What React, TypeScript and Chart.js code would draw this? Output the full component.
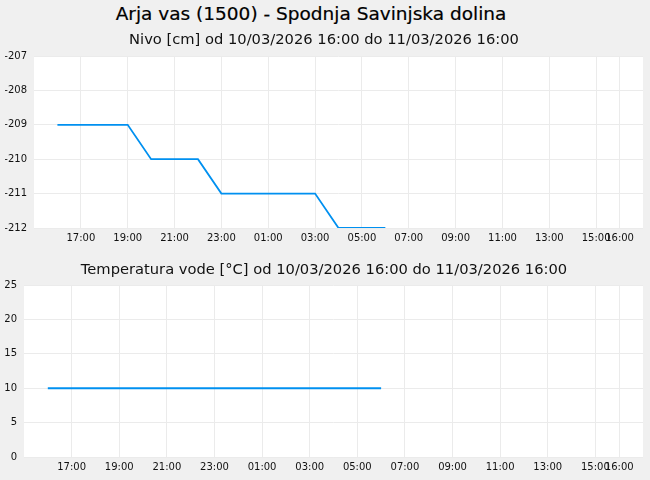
import { useEffect, useRef } from 'react';
import { Chart, registerables } from 'chart.js';

Chart.register(...registerables);

// hours counted from 10/03/2026 00:00
const hours = [16, 17, 18, 19, 20, 21, 22, 23, 24, 25, 26, 27, 28, 29, 30];
const nivo = [-209, -209, -209, -209, -210, -210, -210, -211, -211, -211, -211, -211, -212, -212, -212];
const temperatura = [10, 10, 10, 10, 10, 10, 10, 10, 10, 10, 10, 10, 10, 10, 10];
const tickHours = [17, 19, 21, 23, 25, 27, 29, 31, 33, 35, 37, 39, 40];

const FONT = "'DejaVu Sans', sans-serif";
const LINE = '#0090f0';
const GRID = '#ebebeb';

const plotBg = {
    id: 'plotBg',
    beforeDraw(chart: any) {
        const { ctx, chartArea: a } = chart;
        ctx.save();
        ctx.fillStyle = '#ffffff';
        ctx.fillRect(a.left, a.top, a.right - a.left, a.bottom - a.top);
        ctx.restore();
    },
};

function hourLabel(v: number) {
    const h = ((v % 24) + 24) % 24;
    return String(h).padStart(2, '0') + ':00';
}

function Panel({ title, values, yMin, yMax, yStep, yWidth, titlePad, xHeight, height, lineWidth }: {
    title: string; values: number[]; yMin: number; yMax: number; yStep: number;
    yWidth: number; titlePad: { top: number; bottom: number }; xHeight: number; height: number; lineWidth: number;
}) {
    const canvasRef = useRef<HTMLCanvasElement | null>(null);

    useEffect(() => {
        if (!canvasRef.current) {
            return;
        }

        const chart = new Chart(canvasRef.current, {
            type: 'line',
            data: {
                datasets: [{
                    data: hours.map((h, i) => ({ x: h, y: values[i] })),
                    borderColor: LINE,
                    borderWidth: lineWidth,
                    pointRadius: 0,
                    tension: 0,
                }],
            },
            options: {
                animation: false,
                responsive: false,
                maintainAspectRatio: false,
                layout: { padding: { left: 5, right: 7, top: 0, bottom: 0 } },
                plugins: {
                    legend: { display: false },
                    tooltip: { enabled: false },
                    title: {
                        display: true,
                        text: title,
                        color: '#111',
                        font: { family: FONT, size: 14.7, weight: 'normal', lineHeight: 18 / 14.7 },
                        padding: titlePad,
                    },
                },
                scales: {
                    x: {
                        type: 'linear',
                        min: 15,
                        max: 41,
                        afterBuildTicks: (s: any) => { s.ticks = tickHours.map((v) => ({ value: v })); },
                        afterFit: (s: any) => { s.height = xHeight; },
                        border: { display: false },
                        grid: { color: GRID, drawTicks: false },
                        ticks: {
                            autoSkip: false,
                            maxRotation: 0,
                            padding: 4,
                            color: '#111',
                            font: { family: FONT, size: 10 },
                            callback: (v: any) => hourLabel(Number(v)),
                        },
                    },
                    y: {
                        min: yMin,
                        max: yMax,
                        afterFit: (s: any) => { s.width = yWidth - 5; },
                        border: { display: false },
                        grid: { color: GRID, drawTicks: false },
                        ticks: {
                            stepSize: yStep,
                            padding: 7,
                            color: '#111',
                            font: { family: FONT, size: 10 },
                        },
                    },
                },
            },
            plugins: [plotBg],
        });
        return () => chart.destroy();
    }, [title, values, yMin, yMax, yStep, yWidth, titlePad, xHeight, lineWidth]);

    return <canvas ref={canvasRef} width={650} height={height} style={{ display: 'block' }} />;
}

export default function App() {
    return (
        <div style={{ position: 'fixed', top: 0, left: 0, width: 650, height: 480, background: '#f0f0f0', fontFamily: FONT }}>
            <div style={{ position: 'absolute', top: 2, left: 0, width: 622, textAlign: 'center', fontSize: 18.5, lineHeight: '24px', color: '#000', WebkitTextStroke: '0.2px #000' }}>
                Arja vas (1500) - Spodnja Savinjska dolina
            </div>
            <div style={{ position: 'absolute', top: 26, left: 0 }}>
                <Panel title="Nivo [cm] od 10/03/2026 16:00 do 11/03/2026 16:00" values={nivo}
                    yMin={-212} yMax={-207} yStep={1} yWidth={34} height={224}
                    titlePad={{ top: 5, bottom: 7 }} xHeight={22} lineWidth={1.8} />
            </div>
            <div style={{ position: 'absolute', top: 250, left: 0 }}>
                <Panel title="Temperatura vode [°C] od 10/03/2026 16:00 do 11/03/2026 16:00" values={temperatura}
                    yMin={0} yMax={25} yStep={5} yWidth={24} height={230}
                    titlePad={{ top: 11, bottom: 6 }} xHeight={23} lineWidth={2} />
            </div>
        </div>
    );
}
